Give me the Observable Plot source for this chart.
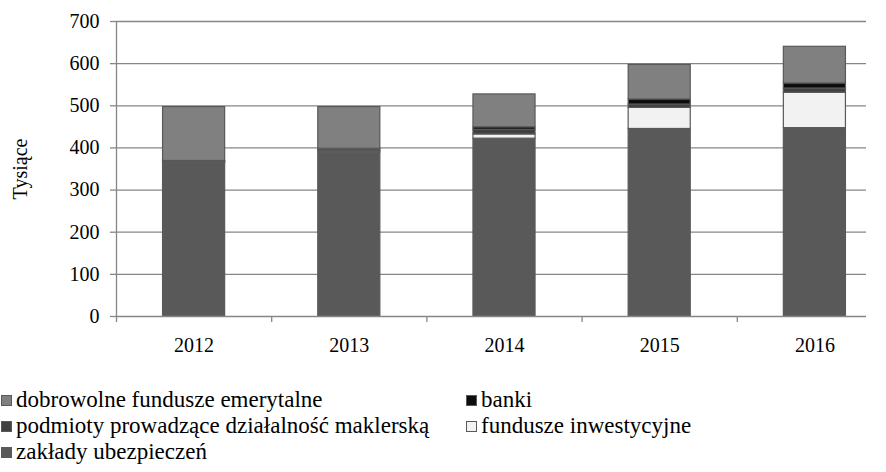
<!DOCTYPE html>
<html>
<head>
<meta charset="utf-8">
<script src="https://cdn.jsdelivr.net/npm/d3@7"></script>
<script src="https://cdn.jsdelivr.net/npm/@observablehq/plot@0.6"></script>
<style>
  html, body { margin: 0; padding: 0; background: #fff; }
  #wrap { position: relative; width: 886px; height: 472px; font-family: "Liberation Serif", "Times New Roman", "DejaVu Serif", serif; }
  #legend { position: absolute; top: 387px; left: 0; font-size: 23px; color: #000; }
  .row { height: 26px; line-height: 26px; display: flex; }
  .item { display: flex; align-items: center; }
  .c1 { width: 465px; }
  .sw { width: 9px; height: 9px; border: 1px solid #595959; margin: 0 4px 0 1px; }
</style>
</head>
<body>
<div id="wrap">
  <div id="chart"></div>
  <div id="legend"></div>
</div>
<script>
const years = [2012, 2013, 2014, 2015, 2016];
// stacking order, bottom to top
const seriesNames = [
  "zakłady ubezpieczeń",
  "fundusze inwestycyjne",
  "podmioty prowadzące działalność maklerską",
  "banki",
  "dobrowolne fundusze emerytalne"
];
const seriesColors = ["#595959", "#f2f2f2", "#404040", "#0d0d0d", "#808080"];
const zaklady     = [365, 389, 422, 445, 447];
const fundusze    = [1, 3, 10, 50, 84];
const podmioty    = [2, 4, 11, 8, 10];
const banki       = [1, 2, 6, 12, 12];
const dobrowolne  = [128, 99, 78, 82, 87];
const yTicks = [0, 100, 200, 300, 400, 500, 600, 700];
const yTitle = "Tysiące";
const legendOrder = [
  "dobrowolne fundusze emerytalne", "banki",
  "podmioty prowadzące działalność maklerską", "fundusze inwestycyjne",
  "zakłady ubezpieczeń"
];

const valuesBySeries = [zaklady, fundusze, podmioty, banki, dobrowolne];
const rows = [];
years.forEach((year, i) => {
  let acc = 0;
  seriesNames.forEach((s, j) => {
    const v = valuesBySeries[j][i];
    rows.push({year, series: s, y1: acc, y2: acc + v});
    acc += v;
  });
});
const boundaries = years.map(y => y - 0.5).concat([years[years.length - 1] + 0.5]);
const halfBar = 0.2;
const FONT = "'Liberation Serif', 'Times New Roman', 'DejaVu Serif', serif";

const chart = Plot.plot({
  width: 886,
  height: 372,
  marginLeft: 116,
  marginRight: 20,
  marginTop: 21,
  marginBottom: 56,
  style: {fontFamily: FONT, fontSize: "20px", color: "#000", background: "#fff"},
  x: {domain: [2011.5, 2016.5], range: [116, 892]},
  y: {domain: [0, 700], range: [316, 21]},
  color: {domain: seriesNames, range: seriesColors},
  marks: [
    Plot.ruleY(yTicks.filter(t => t > 0), {stroke: "#868686", strokeWidth: 1.3}),
    Plot.rect(rows, {
      x1: d => d.year - halfBar,
      x2: d => d.year + halfBar,
      y1: "y1", y2: "y2",
      fill: "series",
      stroke: "#595959",
      strokeWidth: 1.2
    }),
    Plot.ruleY([0], {stroke: "#868686", strokeWidth: 1.3}),
    Plot.ruleX([2011.5], {stroke: "#868686", strokeWidth: 1.3}),
    Plot.axisY(yTicks, {
      tickSize: 6, tickPadding: 11, stroke: "#868686", strokeWidth: 1.3,
      fill: "#000", fontSize: 20, fontFamily: FONT, label: null
    }),
    Plot.text([yTitle], {frameAnchor: "left", textAnchor: "middle", dx: -96, rotate: -90, fontSize: 20, fontFamily: FONT, fill: "#000"}),
    Plot.axisX(boundaries, {tickSize: 6, stroke: "#868686", strokeWidth: 1.3, tickFormat: () => "", label: null}),
    Plot.axisX(years, {tickSize: 0, tickPadding: 21, tickFormat: d => String(d), fill: "#000", fontSize: 20, fontFamily: FONT, label: null})
  ]
});
document.getElementById("chart").appendChild(chart);

const color = new Map(seriesNames.map((s, i) => [s, seriesColors[i]]));
const legend = document.getElementById("legend");
for (let r = 0; r < legendOrder.length; r += 2) {
  const row = document.createElement("div");
  row.className = "row";
  legendOrder.slice(r, r + 2).forEach((name, k) => {
    const item = document.createElement("div");
    item.className = "item" + (k === 0 ? " c1" : "");
    const sw = document.createElement("span");
    sw.className = "sw";
    sw.style.background = color.get(name);
    const tx = document.createElement("span");
    tx.textContent = name;
    item.appendChild(sw);
    item.appendChild(tx);
    row.appendChild(item);
  });
  legend.appendChild(row);
}
</script>
</body>
</html>
